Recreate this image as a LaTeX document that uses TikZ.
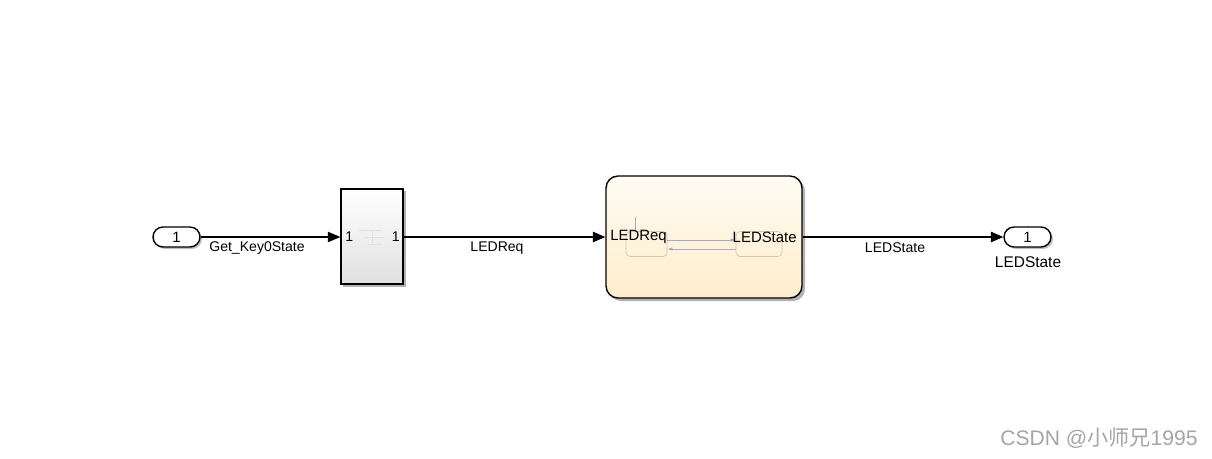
\documentclass[tikz,border=0pt]{standalone}
\usepackage{fontspec}
\setmainfont{Liberation Sans}
\newfontfamily\cjkfont{Noto Sans CJK SC}
\usetikzlibrary{arrows.meta}

\definecolor{chartTop}{RGB}{255,251,243}
\definecolor{chartBot}{RGB}{255,237,204}
\definecolor{stateEdge}{RGB}{214,196,176}
\definecolor{transLine}{RGB}{168,168,200}
\definecolor{markGray}{RGB}{165,165,165}

\tikzset{
  portio/.style={draw, thick, rounded corners=0.2cm, minimum width=0.94cm,
    minimum height=0.4cm, inner sep=0pt, fill=white, font=\fontsize{8.5}{10}\selectfont},
  subsys/.style={draw, thick, top color=white, bottom color=black!12,
    minimum width=1.24cm, minimum height=1.9cm, inner sep=0pt},
  chartbox/.style={draw, thick, rounded corners=0.24cm, top color=chartTop,
    bottom color=chartBot, minimum width=3.92cm, minimum height=2.44cm, inner sep=0pt},
  statebox/.style={draw=stateEdge, rounded corners=0.08cm, minimum height=0.5cm, inner sep=0pt},
  sig/.style={-{Triangle[length=2.5mm,width=2.1mm]}, semithick},
  siglabel/.style={font=\fontsize{8}{9.5}\selectfont, inner sep=0pt}
}

\begin{document}
\begin{tikzpicture}[x=0.02cm, y=-0.02cm]

  \useasboundingbox (0,0) rectangle (1212,458);

  % Shadows under the blocks.
  \fill[black!30, rounded corners=0.24cm] (609,179) rectangle (805,301);
  \fill[black!30] (343,191) rectangle (406,287);
  \fill[black!25, rounded corners=0.2cm] (155,229) rectangle (202,249);
  \fill[black!25, rounded corners=0.2cm] (1006,229) rectangle (1053,249);

  % In- and outport.
  \node[portio] (inport) at (176.5,237) {1};
  \node[portio] (outport) at (1027.5,237) {1};
  \node[font=\fontsize{8.8}{10}\selectfont, inner sep=0pt] (outname) at (1028,262) {LEDState};

  % Subsystem block with its faint content icon.
  \node[subsys] (subsys) at (372,236.5) {};
  \node[siglabel, anchor=west] (subin) at (345,237) {1};
  \node[siglabel, anchor=east] (subout) at (400,237) {1};
  \draw[black!12, very thin] (359,230) -- (382,230) (364,237) -- (384,237)
    (368,244) -- (382,244) (372,230) -- (372,244);

  % Stateflow chart with its two states.
  \node[chartbox] (chart) at (704,237) {};
  \node[statebox, minimum width=0.82cm] (reqstate) at (646.5,244) {};
  \node[statebox, minimum width=0.92cm] (ledstate) at (759,244) {};
  \coordinate (dflt) at (635,217);
  \draw[transLine] (dflt) -- (635,232);
  \draw[transLine, thin, -{Latex[length=1mm,width=0.7mm]}] (reqstate.east |- 0,240) -- (ledstate.west |- 0,240);
  \draw[transLine, thin, -{Latex[length=1mm,width=0.7mm]}] (ledstate.west |- 0,249) -- (reqstate.east |- 0,249);
  \node[font=\fontsize{8.5}{10}\selectfont, inner sep=0pt, anchor=west] (chartin) at (610,237) {LEDReq};
  \node[font=\fontsize{8.5}{10}\selectfont, inner sep=0pt, anchor=east] (chartout) at (797,237) {LEDState};

  % Signal lines.
  \draw[sig] (inport) -- (subsys.west |- inport);
  \draw[sig] (subsys.east |- chart) -- (chart.west);
  \draw[sig] (chart.east) -- (outport);
  \node[siglabel] (lblkey) at (257,248) {Get\_Key0State};
  \node[siglabel] (lblreq) at (497,248) {LEDReq};
  \node[siglabel] (lblstate) at (895,248) {LEDState};

  % Watermark.
  \node[markGray, font=\fontsize{12}{14}\selectfont, inner sep=0pt, anchor=west] (mark) at (1000,438) {CSDN @{\cjkfont 小师兄}1995};

\end{tikzpicture}
\end{document}
